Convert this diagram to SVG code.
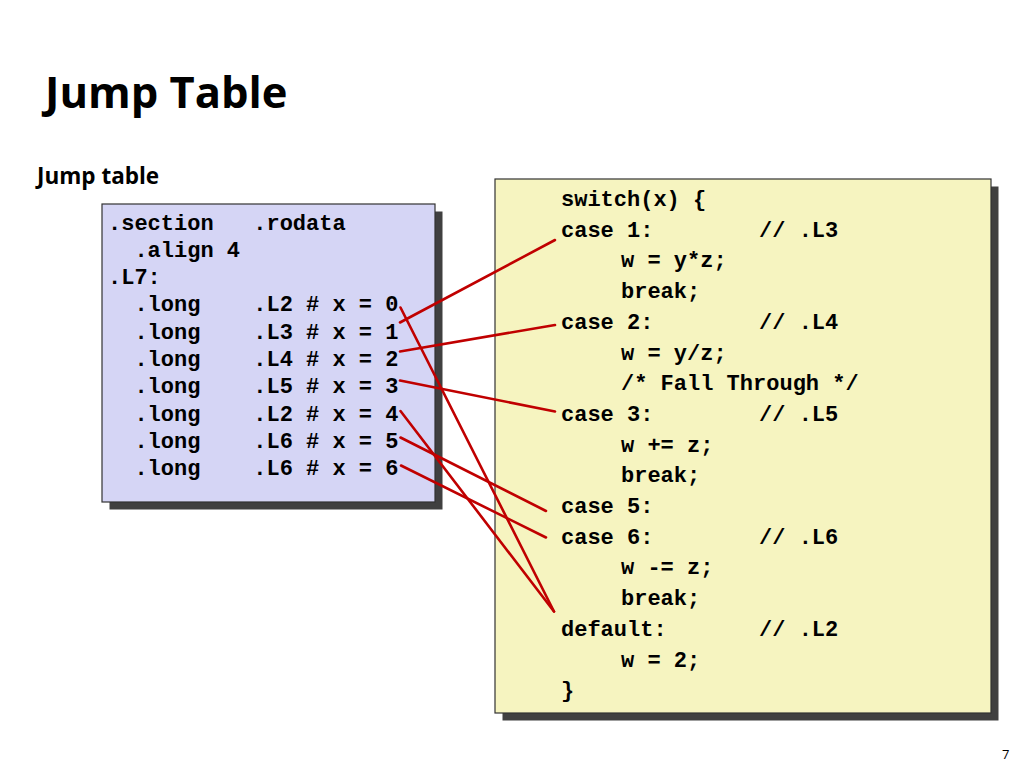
<svg xmlns="http://www.w3.org/2000/svg" width="1024" height="768" viewBox="0 0 1024 768">
<style>
.title{font-family:"Open Sans","Liberation Sans",sans-serif;font-weight:bold;fill:#000}
.code{font-family:"Liberation Mono","DejaVu Sans Mono",monospace;font-weight:bold;font-size:22px;fill:#000;white-space:pre}
.shadow{fill:#404040}
.box{stroke:#333;stroke-width:1.2}
.link{stroke:#C00000;stroke-width:2.6;fill:none;stroke-linecap:round}
</style>
<rect width="1024" height="768" fill="#fff"/>
<text class="title" x="45" y="108" font-size="43.5">Jump Table</text>
<text class="title" x="37" y="184" font-size="22.5">Jump table</text>
<text x="1002" y="759" font-family="'Open Sans','Liberation Sans',sans-serif" font-size="13" fill="#000">7</text>

<g id="jump-table">
<rect class="shadow" x="109.5" y="211.5" width="333" height="298"/>
<rect class="box" x="102" y="204" width="333" height="298" fill="#D5D5F5"/>
<text class="code" xml:space="preserve"><tspan x="108" y="229.5">.section   .rodata</tspan><tspan x="108" y="256.8">  .align 4</tspan><tspan x="108" y="284.1">.L7:</tspan><tspan x="108" y="311.4">  .long    .L2 # x = 0</tspan><tspan x="108" y="338.7">  .long    .L3 # x = 1</tspan><tspan x="108" y="366">  .long    .L4 # x = 2</tspan><tspan x="108" y="393.3">  .long    .L5 # x = 3</tspan><tspan x="108" y="420.6">  .long    .L2 # x = 4</tspan><tspan x="108" y="447.9">  .long    .L6 # x = 5</tspan><tspan x="108" y="475.2">  .long    .L6 # x = 6</tspan></text>
</g>

<g id="switch-code">
<rect class="shadow" x="502.5" y="186.5" width="496" height="534"/>
<rect class="box" x="495" y="179" width="496" height="534" fill="#F6F4C0"/>
<text class="code" xml:space="preserve"><tspan x="561" y="206">switch(x) {</tspan><tspan x="561" y="236.7">case 1:        // .L3</tspan><tspan x="621" y="267.4">w = y*z;</tspan><tspan x="621" y="298.1">break;</tspan><tspan x="561" y="328.8">case 2:        // .L4</tspan><tspan x="621" y="359.5">w = y/z;</tspan><tspan x="621" y="390.2">/* Fall Through */</tspan><tspan x="561" y="420.9">case 3:        // .L5</tspan><tspan x="621" y="451.6">w += z;</tspan><tspan x="621" y="482.3">break;</tspan><tspan x="561" y="513">case 5:</tspan><tspan x="561" y="543.7">case 6:        // .L6</tspan><tspan x="621" y="574.4">w -= z;</tspan><tspan x="621" y="605.1">break;</tspan><tspan x="561" y="635.8">default:       // .L2</tspan><tspan x="621" y="666.5">w = 2;</tspan><tspan x="561" y="697.2">}</tspan></text>
</g>

<g id="connectors">
<line class="link" x1="400" y1="322.5" x2="555" y2="240"/>
<line class="link" x1="400" y1="351.5" x2="555" y2="325"/>
<line class="link" x1="400" y1="380.5" x2="555" y2="411.5"/>
<line class="link" x1="400.5" y1="307.5" x2="554" y2="611.5"/>
<line class="link" x1="400.5" y1="411" x2="554" y2="611.5"/>
<line class="link" x1="400.5" y1="437.5" x2="546" y2="511"/>
<line class="link" x1="401" y1="465.5" x2="546" y2="537.5"/>
</g>
</svg>
